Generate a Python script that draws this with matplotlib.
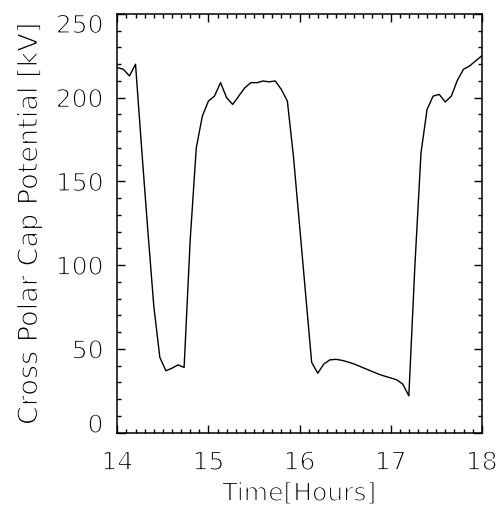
import numpy as np
import matplotlib
matplotlib.use("Agg")
import matplotlib.pyplot as plt
import matplotlib.patheffects as pe
from matplotlib.ticker import MultipleLocator

# 4-minute cadence from 14 to 18 UT
time_hours = 14.0 + np.arange(61) / 15.0
cpcp_kv = [
    218, 217, 213, 220, 170, 122, 76, 45, 37, 38.5,
    40.5, 39, 115, 170, 189, 198, 201, 209, 200, 196,
    201, 206, 209, 209, 210, 209.5, 210, 205, 198, 165,
    124, 83, 42, 35.5, 41, 43.5, 43.8, 43.2, 42.2, 41,
    39.5, 38, 36.5, 35, 33.8, 32.7, 31.6, 29, 22, 100,
    167, 193, 201, 202, 197.5, 201, 210.5, 217, 219, 222,
    225,
]
x_ticks = [14, 15, 16, 17, 18]
y_ticks = [0, 50, 100, 150, 200, 250]

plt.rcParams['font.family'] = ['DejaVu Sans']
# thin the glyphs a little, closer to the plain stroke font of the original
thin = [pe.Stroke(linewidth=0.9, foreground='white')]

fig = plt.figure(figsize=(5.03, 5.09), dpi=100)
ax = fig.add_axes([0.2332, 0.1499, 0.7245, 0.8226])

ax.plot(time_hours, cpcp_kv, color='black', linewidth=1.0)

ax.set_xlim(14, 18)
ax.set_ylim(0, 250)
ax.set_xticks(x_ticks)
ax.set_yticks(y_ticks)
ax.xaxis.set_minor_locator(MultipleLocator(0.1))
ax.yaxis.set_minor_locator(MultipleLocator(10))
ax.tick_params(which='both', direction='in', top=True, right=True,
               width=1.0, labelsize=18, colors='black')
ax.tick_params(which='major', length=5.5)
ax.tick_params(axis='y', which='major', pad=10)
ax.tick_params(axis='x', which='major', pad=13)
ax.tick_params(which='minor', length=3)
for sp in ax.spines.values():
    sp.set_linewidth(1.1)

fig.canvas.draw()
for lbl in ax.get_xticklabels() + ax.get_yticklabels():
    lbl.set_path_effects(thin)
ylbls = ax.get_yticklabels()
ylbls[0].set_va('baseline')
ylbls[-1].set_va('top')

ax.set_xlabel('Time[Hours]', fontsize=18, labelpad=5, path_effects=thin)
ax.set_ylabel('Cross Polar Cap Potential [kV]', fontsize=19.5, labelpad=9,
              path_effects=thin)

fig.savefig('out.png', dpi=100)
